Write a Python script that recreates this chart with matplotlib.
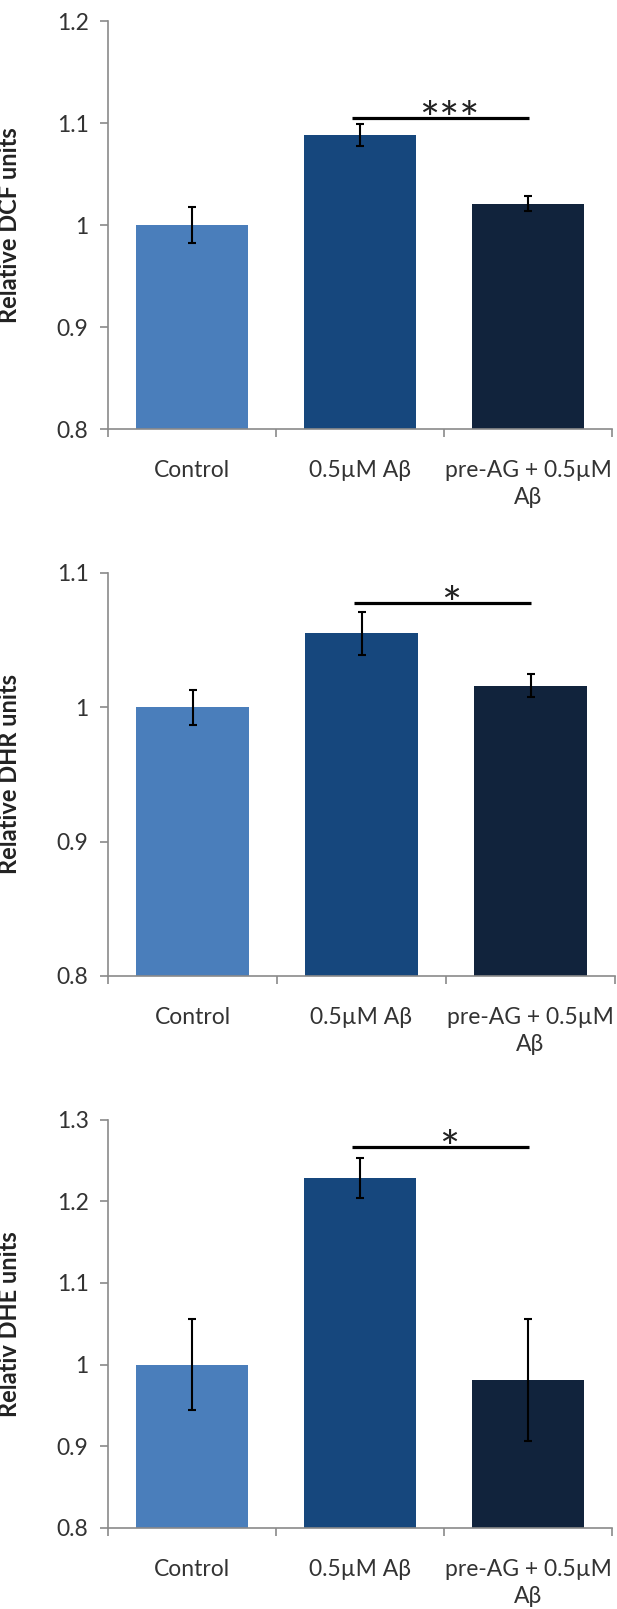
import matplotlib
matplotlib.use("Agg")
import matplotlib.pyplot as plt
import numpy as np
from matplotlib.ticker import FixedLocator, FuncFormatter

# ── 資料 ──
categories = ["Control", "0.5µM Aβ", "pre-AG + 0.5µM\nAβ"]

dcf_means = [1.000, 1.088, 1.021]
dcf_err = [0.018, 0.011, 0.007]

dhr_means = [1.000, 1.055, 1.016]
dhr_err = [0.013, 0.016, 0.0085]

dhe_means = [1.000, 1.228, 0.981]
dhe_err = [0.056, 0.0245, 0.075]

ylabels = ["Relative DCF units", "Relative DHR units", "Relativ DHE units"]
ylims = [(0.8, 1.2), (0.8, 1.1), (0.8, 1.3)]
sig_marks = ["***", "*", "*"]
sig_line_y = [1.105, 1.078, 1.2667]

colors = ["#4a7ebb", "#16477d", "#11233c"]
FONT = ["Lato", "DejaVu Sans"]
TXT = "#333333"
SPINE = "#8a8a8a"

W, H = 617, 1609
# 每個面板的像素位置 (left, top, right, bottom)
boxes = [
    (108, 21, 612, 429),
    (108, 573, 615, 976),
    (108, 1119.5, 612, 1528),
]

plt.rcParams["font.family"] = FONT
fig = plt.figure(figsize=(W / 100, H / 100), dpi=100)

panels = [
    (dcf_means, dcf_err),
    (dhr_means, dhr_err),
    (dhe_means, dhe_err),
]

for i, (means, errs) in enumerate(panels):
    l, t, r, b = boxes[i]
    ax = fig.add_axes([l / W, 1 - b / H, (r - l) / W, (b - t) / H])
    x = np.arange(len(categories))
    ax.bar(x, means, width=0.67, color=colors, zorder=2)
    ax.errorbar(x, means, yerr=errs, fmt="none", ecolor="black",
                elinewidth=1.5, capsize=3.2, capthick=1.5, zorder=3)

    ax.set_xlim(-0.5, 2.5)
    ax.set_ylim(*ylims[i])
    lo, hi = ylims[i]
    ticks = np.round(np.arange(lo, hi + 0.001, 0.1), 1)
    ax.set_yticks(ticks)
    ax.yaxis.set_major_formatter(FuncFormatter(lambda v, p: f"{v:g}"))

    ax.set_xticks(x)
    ax.set_xticklabels(categories, fontsize=16.5, color=TXT, linespacing=1.38)
    ax.xaxis.set_minor_locator(FixedLocator([-0.5, 0.5, 1.5, 2.5]))
    ax.tick_params(axis="x", which="major", length=0, pad=22)
    ax.tick_params(axis="x", which="minor", length=6, width=1.2, color=SPINE,
                   direction="out")
    ax.tick_params(axis="y", length=6, width=1.2, color=SPINE, pad=8,
                   labelsize=16.5, labelcolor=TXT)

    for s in ["top", "right"]:
        ax.spines[s].set_visible(False)
    for s in ["left", "bottom"]:
        ax.spines[s].set_color(SPINE)
        ax.spines[s].set_linewidth(1.2)

    ax.set_ylabel(ylabels[i], fontsize=17, fontweight="bold", color="#222222")
    ax.yaxis.set_label_coords((20.5 - l) / (r - l), 0.5)

    # 顯著性標記
    ax.plot([0.953, 2.005], [sig_line_y[i]] * 2, color="black", lw=2.3,
            solid_capstyle="butt", zorder=4, clip_on=False)
    ax.annotate(sig_marks[i], xy=(1.53, sig_line_y[i]), xytext=(0, -3),
                textcoords="offset points", ha="center", va="center",
                fontsize=34, color="#222222", zorder=5, annotation_clip=False)

fig.savefig("out.png", dpi=100, facecolor="white")
